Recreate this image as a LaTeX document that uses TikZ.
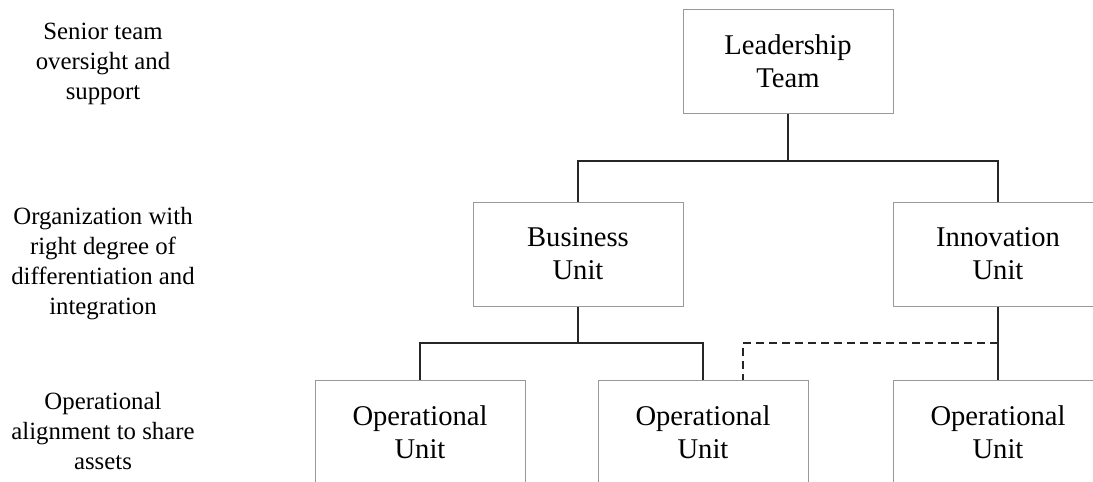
\documentclass[tikz,border=0pt]{standalone}
\usepackage{fontspec}
\setmainfont{Liberation Serif}
\usetikzlibrary{positioning}
\tikzset{
	unitbox/.style={draw=black!40, line width=0.5pt, minimum width=105pt, minimum height=52pt, align=center, inner sep=0pt, font=\fontsize{14.3}{16.5}\selectfont},
	levellabel/.style={align=center, inner sep=0pt, font=\fontsize{12.4}{15}\selectfont},
	link/.style={draw=black!85, line width=0.8pt},
}
\begin{document}
\begin{tikzpicture}[x=0.5pt,y=-0.5pt]
	\useasboundingbox (0,0) rectangle (1093,482);
	\clip (0,0) rectangle (1093,482);
	% level labels
	\node[levellabel] (lbltop) at (103,64) {Senior team\\oversight and\\support};
	\node[levellabel] (lblmid) at (103,264) {Organization with\\right degree of\\differentiation and\\integration};
	\node[levellabel] (lblbot) at (103,431) {Operational\\alignment to share\\assets};
	% units
	\node[unitbox] (lead) at (788,61) {Leadership\\Team};
	\node[unitbox] (bu) at (578,254) {Business\\Unit};
	\node[unitbox] (iu) at (998,254) {Innovation\\Unit};
	\node[unitbox] (opa) at (420,432) {Operational\\Unit};
	\node[unitbox] (opb) at (703,432) {Operational\\Unit};
	\node[unitbox] (opc) at (998,432) {Operational\\Unit};
	% joints
	\coordinate (jtop) at (788,161);
	\coordinate (jbu) at (578,343);
	\coordinate (jiu) at (998,343);
	% links
	\draw[link] (lead.south) -- (jtop);
	\draw[link] (bu.north) |- (jtop) -| (iu.north);
	\draw[link] (bu.south) -- (jbu);
	\draw[link] (opa.north) |- (jbu) -| (opb.north);
	\draw[link] (iu.south) -- (opc.north);
	\draw[link, dash pattern=on 4pt off 2.5pt] (jiu) -| ([xshift=20pt]opb.north);
\end{tikzpicture}
\end{document}
